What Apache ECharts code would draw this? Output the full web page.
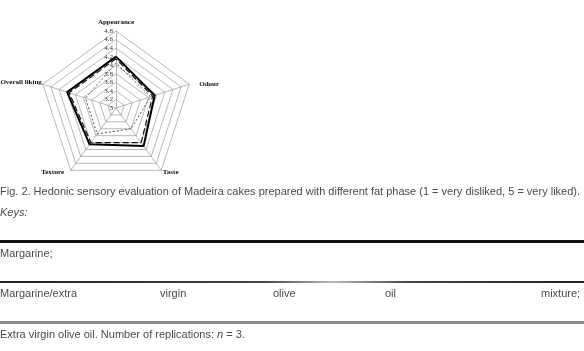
<!DOCTYPE html>
<html><head><meta charset="utf-8">
<script src="https://cdn.jsdelivr.net/npm/echarts@6/dist/echarts.min.js"></script>
<style>html,body{margin:0;padding:0;background:#fff}#c{width:584px;height:351px}</style>
</head><body><div id="c"></div>
<script>
// Axes in clockwise order starting at top
const attributes = ['Appearance', 'Odour', 'Taste', 'Texture', 'Overall liking'];
const margarine = [4.2, 3.95, 4.1, 4.05, 4.2];
const mixture = [4.15, 3.9, 4.0, 4.0, 4.15];
const oliveOil = [4.05, 3.85, 3.6, 3.75, 3.75];
const axisMin = 3, axisMax = 4.8, axisStep = 0.2;

const captionTitle = 'Fig. 2. Hedonic sensory evaluation of Madeira cakes prepared with different fat phase (1 = very disliked, 5 = very liked).';
const keysLabel = 'Keys:';
const key1 = 'Margarine;';
const key2Words = ['Margarine/extra', 'virgin', 'olive', 'oil', 'mixture;'];
const key3a = 'Extra virgin olive oil. Number of replications: ';
const key3b = 'n';
const key3c = ' = 3.';

// ECharts radar runs counter-clockwise, so reorder: top, then left side ...
const order = [0, 4, 3, 2, 1];
const pick = arr => order.map(i => arr[i]);

const indicator = order.map((i, k) => {
  const o = { name: attributes[i], min: axisMin, max: axisMax };
  if (k === 0) o.axisLabel = { show: true };
  return o;
});

const nameFont = { color: '#111', fontFamily: 'Liberation Serif, Times New Roman, serif', fontSize: 7, fontWeight: 'bold' };
const namePad = [[0, 0, 4, 0], [0, 0, 0, 9], [3, 0, 0, 1], [2, 6, 0, 0], [0, 0, 3, 0]];
const rich = {};
namePad.forEach((p, i) => { rich['n' + i] = Object.assign({ padding: p }, nameFont); });

const chart = echarts.init(document.getElementById('c'), null, { renderer: 'canvas' });
const capFont = 'Liberation Sans, Arial, sans-serif';
const capStyle = { fontFamily: capFont, fontSize: 11, fill: '#4a4a4a' };
const wordX = [0, 160, 273, 385, 541];

const graphics = [
  { type: 'text', left: 0, top: 186, style: Object.assign({ text: captionTitle }, capStyle) },
  { type: 'text', left: 0, top: 207, style: Object.assign({ text: keysLabel, fontStyle: 'italic' }, capStyle) },
  { type: 'rect', shape: { x: 0, y: 240, width: 584, height: 3 }, style: { fill: '#111' } },
  { type: 'text', left: 0, top: 248, style: Object.assign({ text: key1 }, capStyle) },
  { type: 'rect', shape: { x: 0, y: 281, width: 584, height: 2 },
    style: { fill: new echarts.graphic.LinearGradient(0, 0, 1, 0, [
      { offset: 0, color: '#222' }, { offset: 0.45, color: '#444' }, { offset: 0.57, color: '#bbb' }, { offset: 0.7, color: '#444' }, { offset: 1, color: '#222' }]) } },
  { type: 'rect', shape: { x: 0, y: 321, width: 584, height: 3 }, style: { fill: '#8c8c8c' } },
  { type: 'text', left: 0, top: 329, style: {
      text: '{a|' + key3a + '}{b|' + key3b + '}{a|' + key3c + '}',
      rich: {
        a: { fontFamily: capFont, fontSize: 11, fill: '#4a4a4a', color: '#4a4a4a' },
        b: { fontFamily: capFont, fontSize: 11, fill: '#4a4a4a', color: '#4a4a4a', fontStyle: 'italic' }
      } } }
];
key2Words.forEach((w, i) => {
  graphics.push({ type: 'text', x: wordX[i], y: 288, style: Object.assign({ text: w }, capStyle) });
});

chart.setOption({
  animation: false,
  backgroundColor: '#fff',
  graphic: graphics,
  radar: {
    center: [116, 108],
    radius: 77,
    startAngle: 90,
    splitNumber: Math.round((axisMax - axisMin) / axisStep),
    indicator: indicator,
    shape: 'polygon',
    axisName: Object.assign({
      formatter: name => '{n' + attributes.indexOf(name) + '|' + name + '}',
      rich: rich
    }, nameFont),
    nameGap: 1,
    splitLine: { lineStyle: { color: '#9a9a9a', width: 0.7 } },
    splitArea: { show: false },
    axisLine: { lineStyle: { color: '#9a9a9a', width: 0.7 } },
    axisTick: { show: false },
    axisLabel: { show: false, color: '#333', fontFamily: 'Liberation Serif, Times New Roman, serif', fontSize: 7, margin: 3,
      formatter: v => String(Math.round(v * 10) / 10) }
  },
  series: [{
    type: 'radar',
    symbol: 'none',
    data: [
      { name: 'Margarine', value: pick(margarine), lineStyle: { color: '#000', width: 2 } },
      { name: 'Margarine/extra virgin olive oil mixture', value: pick(mixture), lineStyle: { color: '#111', width: 1.2, type: [6, 3] } },
      { name: 'Extra virgin olive oil', value: pick(oliveOil), lineStyle: { color: '#555', width: 1, type: [2, 2] } }
    ]
  }]
});
</script></body></html>
